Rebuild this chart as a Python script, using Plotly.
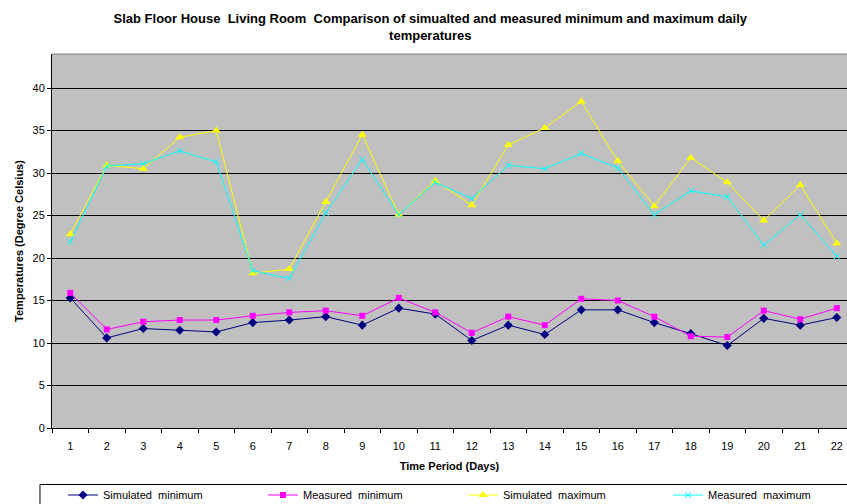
import plotly.graph_objects as go

days = [str(d) for d in range(1, 23)]

sim_min = [15.3, 10.6, 11.7, 11.5, 11.3, 12.4, 12.7, 13.1, 12.1, 14.1, 13.4,
           10.3, 12.1, 11.0, 13.9, 13.9, 12.4, 11.1, 9.7, 12.9, 12.1, 13.0]
meas_min = [15.9, 11.6, 12.5, 12.7, 12.7, 13.2, 13.6, 13.8, 13.2, 15.3, 13.6,
            11.2, 13.1, 12.1, 15.2, 15.0, 13.1, 10.8, 10.7, 13.8, 12.8, 14.1]
sim_max = [22.8, 30.9, 30.5, 34.2, 35.0, 18.2, 18.7, 26.6, 34.5, 25.1, 29.1,
           26.2, 33.3, 35.3, 38.4, 31.4, 26.1, 31.8, 28.9, 24.4, 28.6, 21.7]
meas_max = [21.9, 30.8, 31.1, 32.6, 31.3, 18.5, 17.6, 25.3, 31.6, 25.1, 28.9,
            27.0, 30.9, 30.5, 32.3, 30.6, 25.1, 27.9, 27.2, 21.5, 25.1, 20.2]

font = "Liberation Sans, Arial, sans-serif"

fig = go.Figure()

# one legend per entry so the items can be spaced like the original
fig.add_trace(go.Scatter(x=days, y=sim_min, name="Simulated  minimum",
                         mode="lines+markers", legend="legend", showlegend=True,
                         line=dict(color="#000080", width=1),
                         marker=dict(symbol="diamond", size=7, color="#000080")))
fig.add_trace(go.Scatter(x=days, y=meas_min, name="Measured  minimum",
                         mode="lines+markers", legend="legend2", showlegend=True,
                         line=dict(color="#FF00FF", width=1),
                         marker=dict(symbol="square", size=6, color="#FF00FF")))
fig.add_trace(go.Scatter(x=days, y=sim_max, name="Simulated  maximum",
                         mode="lines+markers", legend="legend3", showlegend=True,
                         line=dict(color="#FFFF00", width=1),
                         marker=dict(symbol="triangle-up", size=8, color="#FFFF00")))
fig.add_trace(go.Scatter(x=days, y=meas_max, name="Measured  maximum",
                         mode="lines+markers", legend="legend4", showlegend=True,
                         line=dict(color="#00FFFF", width=1),
                         marker=dict(symbol="x-thin", size=6, color="#00FFFF",
                                     line=dict(color="#00FFFF", width=1))))

W, H = 847, 504


def leg(px):
    return dict(xref="container", yref="container", x=px / W, xanchor="left",
                y=9 / H, yanchor="middle", orientation="h",
                bgcolor="rgba(0,0,0,0)", borderwidth=0, font=dict(size=11))


fig.update_layout(
    width=W, height=H,
    showlegend=True,
    margin=dict(l=52, r=0, t=54, b=76),
    paper_bgcolor="white",
    plot_bgcolor="#C0C0C0",
    font=dict(family=font, size=11, color="black"),
    title=dict(
        text="<b>Slab Floor House  Living Room  Comparison of simualted and measured minimum and maximum daily<br>temperatures</b>",
        x=0.508, xanchor="center", y=1 - 23 / H, yanchor="middle",
        font=dict(family=font, size=13, color="black"),
    ),
    xaxis=dict(
        type="category", automargin=False,
        range=[-0.5, 21.28],
        title=dict(text="<b>Time Period (Days)</b>", font=dict(size=11), standoff=11),
        tickson="boundaries", ticks="outside", ticklen=4, tickcolor="black",
        ticklabelstandoff=8, ticklabeloverflow="allow",
        showline=True, linecolor="black", linewidth=1,
        showgrid=False,
    ),
    yaxis=dict(
        automargin=False,
        title=dict(text="<b>Temperatures (Degree Celsius)</b>", font=dict(size=11), standoff=6),
        range=[0, 44], tickvals=[0, 5, 10, 15, 20, 25, 30, 35, 40],
        ticks="outside", ticklen=4, tickcolor="black",
        showline=True, linecolor="black", linewidth=1,
        showgrid=True, gridcolor="black", gridwidth=1, zeroline=False,
    ),
    legend=leg(63),
    legend2=leg(263),
    legend3=leg(463),
    legend4=leg(668),
    shapes=[
        # legend frame, running off the right and bottom edges as in the original
        dict(type="rect", xref="paper", yref="paper",
             x0=-0.0151, x1=1.02, y0=-0.151, y1=-0.22,
             line=dict(color="black", width=1), fillcolor="rgba(0,0,0,0)"),
        # grey top border of the plot area
        dict(type="line", xref="paper", yref="paper", x0=0, x1=1, y0=1, y1=1,
             line=dict(color="#808080", width=1)),
    ],
)

# drop the page's default body margin so the 847x504 figure fills the window
fig.write_html("out.html", config={"displayModeBar": False},
               post_script="document.body.style.margin='0';")
